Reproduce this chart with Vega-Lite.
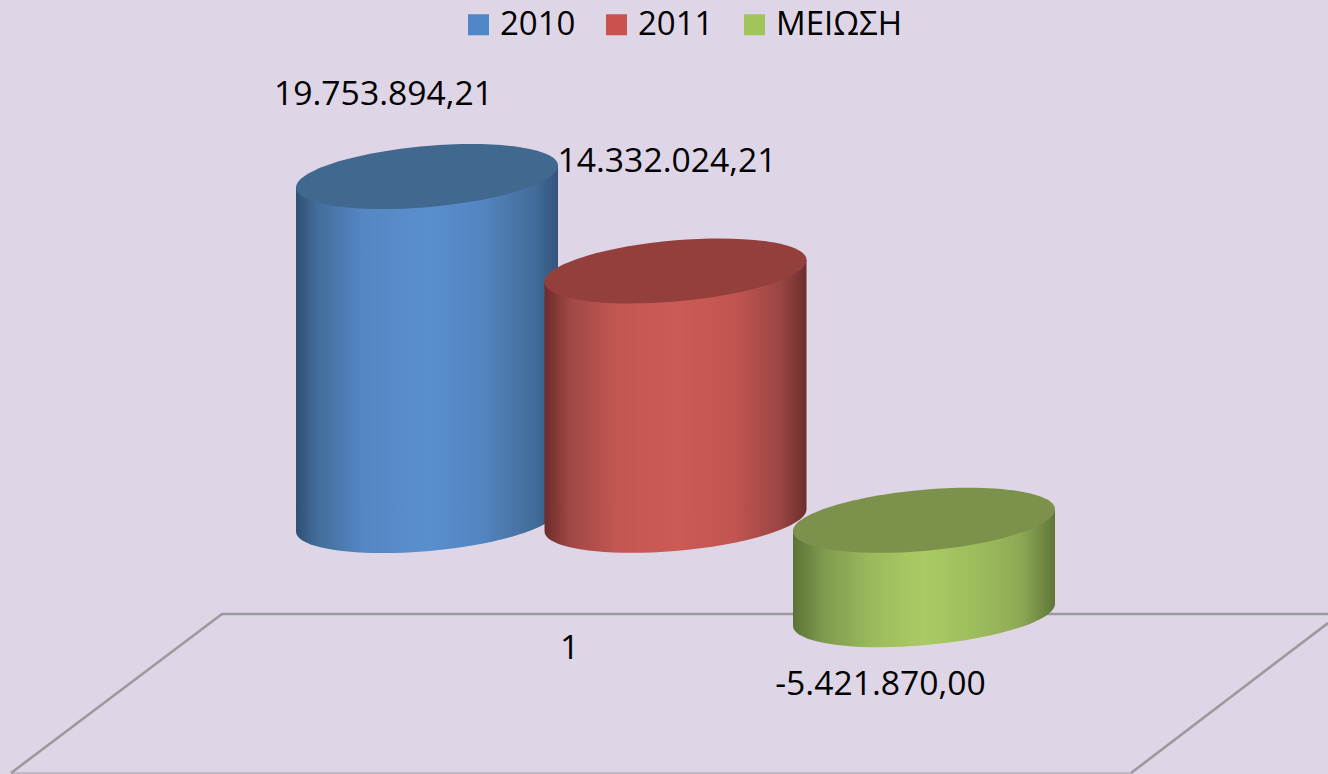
{
"$schema":"https://vega.github.io/schema/vega-lite/v6.json",
"width":1328,"height":774,"padding":0,"autosize":{"type":"none"},
"background":"#ded6e6",
"config":{"view":{"stroke":null}},
"datasets":{
"values":[{"series":"2010","value":19753894.21,"label":"19.753.894,21"},{"series":"2011","value":14332024.21,"label":"14.332.024,21"},{"series":"ΜΕΙΩΣΗ","value":-5421870.00,"label":"-5.421.870,00"}],
"floor":[{"edge":"back","fx":11,"fy":-14523000},{"edge":"back","fx":222,"fy":-5385000},{"edge":"back","fx":1328,"fy":-5385000},{"edge":"right","fx":1131,"fy":-14523000},{"edge":"right","fx":1328,"fy":-5902000}],
"front":[{"edge":"front","fx":11,"fy":-14523000},{"edge":"front","fx":1131,"fy":-14523000}],
"category":[{"category":"1","fx":569.5,"fy":-7971000}]
},
"layer":[
{"data":{"name":"front"},"mark":{"type":"line","stroke":"#b4b0b8","strokeWidth":1.5},
 "encoding":{"x":{"field":"fx","type":"quantitative","scale":{"domain":[0,1328],"range":[0,1328]},"axis":null},"y":{"field":"fy","type":"quantitative","scale":{"domain":[-14580000,29902000],"nice":false,"zero":false},"axis":null}}},
{"data":{"name":"floor"},"mark":{"type":"line","stroke":"#9c999f","strokeWidth":2.6},
 "encoding":{"detail":{"field":"edge"},"x":{"field":"fx","type":"quantitative","scale":{"domain":[0,1328],"range":[0,1328]},"axis":null},"y":{"field":"fy","type":"quantitative","scale":{"domain":[-14580000,29902000],"nice":false,"zero":false},"axis":null}}},
{"data":{"name":"category"},"mark":{"type":"text","font":"Open Sans","fontSize":33.7,"align":"center","baseline":"alphabetic","color":"#000000"},
 "encoding":{"text":{"field":"category"},"x":{"field":"fx","type":"quantitative","scale":{"domain":[0,1328],"range":[0,1328]},"axis":null},"y":{"field":"fy","type":"quantitative","scale":{"domain":[-14580000,29902000],"nice":false,"zero":false},"axis":null}}},
{"data":{"name":"values"},"mark":{"type":"point","filled":true,"size":0,"shape":"square","opacity":0},
 "encoding":{"x":{"field":"series","type":"nominal","scale":{"type":"point","domain":["2010","2011","ΜΕΙΩΣΗ"],"range":[427,924],"padding":0},"axis":null},
 "y":{"field":"value","type":"quantitative","scale":{"domain":[-14580000,29902000],"nice":false,"zero":false},"axis":null},
 "color":{"field":"series","type":"nominal","scale":{"domain":["2010","2011","ΜΕΙΩΣΗ"],"range":["#4f86c6","#c9524f","#a2c55a"]},
  "legend":{"title":null,"orient":"none","legendX":462,"legendY":8,"direction":"horizontal","columns":3,"gridAlign":"each","columnPadding":24,"symbolType":"square","symbolSize":441,"symbolOpacity":1,"symbolStrokeWidth":0,"labelFont":"Open Sans","labelFontSize":33,"labelColor":"#000000","labelOffset":5,"labelLimit":300}}}},
{"data":{"name":"values"},"transform":[{"filter":"datum.series==='2010'"}],
 "mark":{"type":"point","filled":true,"size":4,"opacity":1,"shape":"M-131,11 L-131,355 C-131,371.9 -72.35,380.68 0,374.6 C72.35,368.52 131,349.9 131,333 L131,-11 Z",
  "fill":{"gradient":"linear","x1":0,"y1":0,"x2":1,"y2":0,"stops":[{"offset":0,"color":"#2f5072"},{"offset":0.08,"color":"#426d9b"},{"offset":0.25,"color":"#5486c2"},{"offset":0.5,"color":"#5a8fce"},{"offset":0.72,"color":"#5284c0"},{"offset":0.92,"color":"#416a97"},{"offset":1,"color":"#32557c"}]}},
 "encoding":{"x":{"field":"series","type":"nominal","scale":{"type":"point","domain":["2010","2011","ΜΕΙΩΣΗ"],"range":[427,924],"padding":0},"axis":null},"y":{"field":"value","type":"quantitative","scale":{"domain":[-14580000,29902000],"nice":false,"zero":false},"axis":null}}},
{"data":{"name":"values"},"transform":[{"filter":"datum.series==='2010'"}],
 "mark":{"type":"point","filled":true,"size":4,"opacity":1,"color":"#41688f","shape":"M131,-11 C131,5.9 72.35,24.52 0,30.6 C-72.35,36.68 -131,27.9 -131,11 C-131,-5.9 -72.35,-24.52 0,-30.6 C72.35,-36.68 131,-27.9 131,-11 Z"},
 "encoding":{"x":{"field":"series","type":"nominal","scale":{"type":"point","domain":["2010","2011","ΜΕΙΩΣΗ"],"range":[427,924],"padding":0},"axis":null},"y":{"field":"value","type":"quantitative","scale":{"domain":[-14580000,29902000],"nice":false,"zero":false},"axis":null}}},
{"data":{"name":"values"},"transform":[{"filter":"datum.series==='2011'"}],
 "mark":{"type":"point","filled":true,"size":4,"opacity":1,"shape":"M-131,11 L-131,260.4 C-131,277.3 -72.35,286.08 0,280 C72.35,273.92 131,255.3 131,238.4 L131,-11 Z",
  "fill":{"gradient":"linear","x1":0,"y1":0,"x2":1,"y2":0,"stops":[{"offset":0,"color":"#6e2c2a"},{"offset":0.1,"color":"#a04845"},{"offset":0.28,"color":"#c45753"},{"offset":0.5,"color":"#cc5a56"},{"offset":0.72,"color":"#c25551"},{"offset":0.9,"color":"#9a4644"},{"offset":1,"color":"#6c2e2c"}]}},
 "encoding":{"x":{"field":"series","type":"nominal","scale":{"type":"point","domain":["2010","2011","ΜΕΙΩΣΗ"],"range":[427,924],"padding":0},"axis":null},"y":{"field":"value","type":"quantitative","scale":{"domain":[-14580000,29902000],"nice":false,"zero":false},"axis":null}}},
{"data":{"name":"values"},"transform":[{"filter":"datum.series==='2011'"}],
 "mark":{"type":"point","filled":true,"size":4,"opacity":1,"color":"#93403d","shape":"M131,-11 C131,5.9 72.35,24.52 0,30.6 C-72.35,36.68 -131,27.9 -131,11 C-131,-5.9 -72.35,-24.52 0,-30.6 C72.35,-36.68 131,-27.9 131,-11 Z"},
 "encoding":{"x":{"field":"series","type":"nominal","scale":{"type":"point","domain":["2010","2011","ΜΕΙΩΣΗ"],"range":[427,924],"padding":0},"axis":null},"y":{"field":"value","type":"quantitative","scale":{"domain":[-14580000,29902000],"nice":false,"zero":false},"axis":null}}},
{"data":{"name":"values"},"transform":[{"filter":"datum.series==='ΜΕΙΩΣΗ'"}],
 "mark":{"type":"point","filled":true,"size":4,"opacity":1,"shape":"M-131,-83.4 L-131,11 C-131,27.9 -72.35,36.68 0,30.6 C72.35,24.52 131,5.9 131,-11 L131,-105.4 Z",
  "fill":{"gradient":"linear","x1":0,"y1":0,"x2":1,"y2":0,"stops":[{"offset":0,"color":"#5b7335"},{"offset":0.12,"color":"#7f9b4f"},{"offset":0.3,"color":"#9abb5c"},{"offset":0.5,"color":"#aacb63"},{"offset":0.7,"color":"#9dbd5d"},{"offset":0.87,"color":"#8ea955"},{"offset":1,"color":"#5f7638"}]}},
 "encoding":{"x":{"field":"series","type":"nominal","scale":{"type":"point","domain":["2010","2011","ΜΕΙΩΣΗ"],"range":[427,924],"padding":0},"axis":null},"y":{"field":"value","type":"quantitative","scale":{"domain":[-14580000,29902000],"nice":false,"zero":false},"axis":null}}},
{"data":{"name":"values"},"transform":[{"filter":"datum.series==='ΜΕΙΩΣΗ'"}],
 "mark":{"type":"point","filled":true,"size":4,"opacity":1,"color":"#7c914b","shape":"M131,-11 C131,5.9 72.35,24.52 0,30.6 C-72.35,36.68 -131,27.9 -131,11 C-131,-5.9 -72.35,-24.52 0,-30.6 C72.35,-36.68 131,-27.9 131,-11 Z"},
 "encoding":{"x":{"field":"series","type":"nominal","scale":{"type":"point","domain":["2010","2011","ΜΕΙΩΣΗ"],"range":[427,924],"padding":0},"axis":null},"y":{"datum":0,"type":"quantitative","scale":{"domain":[-14580000,29902000],"nice":false,"zero":false},"axis":null}}},
{"data":{"name":"values"},"transform":[{"filter":"datum.series==='2010'"}],
 "mark":{"type":"text","font":"Open Sans","fontSize":33.7,"align":"center","baseline":"alphabetic","color":"#000000","dx":-43.5,"dy":-71.5},
 "encoding":{"text":{"field":"label"},"x":{"field":"series","type":"nominal","scale":{"type":"point","domain":["2010","2011","ΜΕΙΩΣΗ"],"range":[427,924],"padding":0},"axis":null},"y":{"field":"value","type":"quantitative","scale":{"domain":[-14580000,29902000],"nice":false,"zero":false},"axis":null}}},
{"data":{"name":"values"},"transform":[{"filter":"datum.series==='2011'"}],
 "mark":{"type":"text","font":"Open Sans","fontSize":33.7,"align":"center","baseline":"alphabetic","color":"#000000","dx":-8.5,"dy":-99},
 "encoding":{"text":{"field":"label"},"x":{"field":"series","type":"nominal","scale":{"type":"point","domain":["2010","2011","ΜΕΙΩΣΗ"],"range":[427,924],"padding":0},"axis":null},"y":{"field":"value","type":"quantitative","scale":{"domain":[-14580000,29902000],"nice":false,"zero":false},"axis":null}}},
{"data":{"name":"values"},"transform":[{"filter":"datum.series==='ΜΕΙΩΣΗ'"}],
 "mark":{"type":"text","font":"Open Sans","fontSize":33.7,"align":"center","baseline":"alphabetic","color":"#000000","dx":-43.5,"dy":80.5},
 "encoding":{"text":{"field":"label"},"x":{"field":"series","type":"nominal","scale":{"type":"point","domain":["2010","2011","ΜΕΙΩΣΗ"],"range":[427,924],"padding":0},"axis":null},"y":{"field":"value","type":"quantitative","scale":{"domain":[-14580000,29902000],"nice":false,"zero":false},"axis":null}}}
],
"resolve":{"scale":{"x":"independent"}}
}
